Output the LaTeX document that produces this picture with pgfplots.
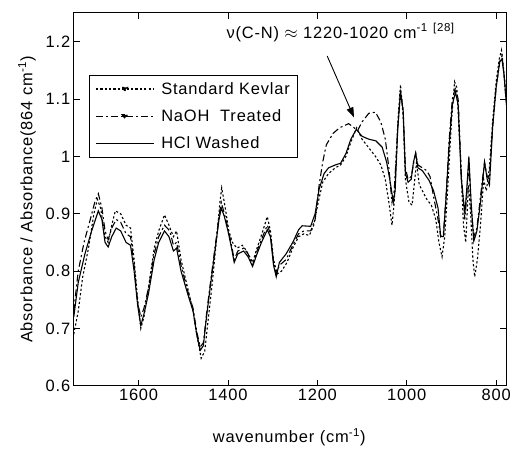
\documentclass[border=0pt]{standalone}
\usepackage{fontspec}
\setmainfont{Liberation Sans}[LetterSpace=5]
\usepackage{pgfplots}
\pgfplotsset{compat=1.18}
\usetikzlibrary{arrows.meta}

\pgfplotsset{
  withtri/.style={legend image code/.code={
    \draw[##1] (0bp,0bp) -- (58bp,0bp);
    \fill[black] (29bp,-1.8bp) -- (26.3bp,1.6bp) -- (31.7bp,1.6bp) -- cycle;}},
  notri/.style={legend image code/.code={
    \draw[##1] (0bp,0bp) -- (58bp,0bp);}},
}

\begin{document}
\begin{tikzpicture}[font=\fontsize{16.5bp}{19bp}\selectfont]
\begin{axis}[
  scale only axis, width=434bp, height=374bp,
  x dir=reverse,
  xmin=777, xmax=1745, ymin=0.6, ymax=1.25,
  xtick={800,1000,1200,1400,1600},
  ytick={0.6,0.7,0.8,0.9,1,1.1,1.2},
  /pgf/number format/assume math mode=true,
  /pgf/number format/set thousands separator={},
  tick align=inside, major tick length=6bp,
  tick style={black, line width=0.9bp},
  axis line style={line width=1bp},
  xlabel={wavenumber (cm\textsuperscript{-1})},
  ylabel={Absorbance / Absorbance(864 cm\textsuperscript{-1})},
  x label style={at={(axis description cs:0.498,-0.138)}, anchor=center},
  y label style={at={(axis description cs:-0.108,0.5)}, anchor=center},
  legend style={at={(rel axis cs:0.035,0.834)}, anchor=north west,
    draw=black, line width=1bp, row sep=10bp, column sep=5bp,
    inner xsep=6bp, inner ysep=5bp},
  legend cell align=left,
]

\addplot[black, line width=1.1bp, dash pattern=on 2.2bp off 2.2bp, withtri] coordinates {
(1745,0.69) (1735,0.73) (1725,0.79) (1712,0.84) (1700,0.90) (1692,0.925)
(1685,0.91) (1675,0.86) (1668,0.85) (1660,0.88) (1652,0.905) (1640,0.90)
(1628,0.88) (1618,0.875) (1610,0.82) (1602,0.75) (1595,0.70) (1588,0.72)
(1578,0.77) (1565,0.84) (1555,0.87) (1542,0.898) (1532,0.88) (1522,0.86)
(1515,0.87) (1505,0.82) (1490,0.77) (1478,0.73) (1470,0.69) (1460,0.648)
(1452,0.66) (1445,0.71) (1435,0.78) (1425,0.86) (1418,0.92) (1414,0.945)
(1406,0.91) (1398,0.87) (1390,0.85) (1380,0.84) (1368,0.845) (1358,0.835)
(1345,0.815) (1335,0.84) (1322,0.87) (1312,0.895) (1305,0.87) (1298,0.82)
(1290,0.795) (1280,0.80) (1268,0.815) (1255,0.84) (1242,0.86) (1230,0.865)
(1218,0.862) (1208,0.88) (1198,0.92) (1188,0.955) (1175,0.97) (1160,0.98)
(1148,0.985) (1136,1.0) (1125,1.025) (1112,1.05) (1100,1.03) (1085,1.015)
(1070,1.0) (1058,0.985) (1048,0.96) (1040,0.92) (1033,0.88) (1028,0.92)
(1020,1.06) (1014,1.125) (1008,1.07) (1003,0.96) (995,0.92) (988,0.915)
(982,0.96) (978,0.99) (972,0.95) (965,0.94) (955,0.925) (945,0.915)
(935,0.89) (928,0.85) (921,0.825) (915,0.86) (908,0.95) (900,1.06)
(893,1.13) (888,1.12) (880,1.0) (873,0.88) (868,0.85) (862,0.95)
(857,0.90) (852,0.82) (848,0.79) (842,0.82) (835,0.88) (828,0.96)
(822,0.94) (815,0.98) (808,1.06) (800,1.13) (793,1.17) (788,1.185)
(783,1.15) (777,1.10)
};
\addlegendentry{Standard Kevlar}

\addplot[black, line width=1.1bp, dash pattern=on 7bp off 3bp on 2bp off 3bp, withtri] coordinates {
(1745,0.73) (1735,0.80) (1722,0.85) (1708,0.89) (1698,0.92) (1690,0.935)
(1682,0.91) (1675,0.87) (1668,0.855) (1660,0.875) (1650,0.89) (1640,0.885)
(1628,0.865) (1618,0.86) (1610,0.81) (1602,0.745) (1595,0.72) (1588,0.735)
(1578,0.77) (1565,0.83) (1555,0.86) (1542,0.88) (1530,0.87) (1522,0.845)
(1515,0.85) (1505,0.81) (1490,0.765) (1478,0.735) (1470,0.695) (1462,0.668)
(1455,0.675) (1448,0.725) (1440,0.775) (1430,0.835) (1420,0.895) (1415,0.92)
(1408,0.90) (1400,0.875) (1392,0.845) (1386,0.82) (1378,0.835) (1365,0.84)
(1355,0.83) (1345,0.81) (1335,0.835) (1325,0.855) (1312,0.88) (1305,0.865)
(1298,0.815) (1292,0.795) (1285,0.81) (1270,0.82) (1255,0.845) (1242,0.865)
(1230,0.87) (1215,0.87) (1205,0.89) (1196,0.95) (1188,0.99) (1180,1.02)
(1165,1.04) (1150,1.05) (1130,1.057) (1118,1.05) (1110,1.045) (1100,1.06)
(1085,1.075) (1070,1.077) (1058,1.06) (1048,1.03) (1040,0.98) (1033,0.92)
(1028,0.94) (1020,1.05) (1014,1.115) (1008,1.08) (1003,0.98) (997,0.96)
(990,0.965) (984,0.99) (980,1.005) (975,0.985) (965,0.98) (955,0.975)
(948,0.965) (940,0.93) (930,0.89) (924,0.86) (918,0.865) (912,0.93)
(905,1.03) (898,1.10) (891,1.12) (885,1.10) (878,0.97) (870,0.89)
(866,0.93) (861,0.99) (856,0.91) (850,0.86) (843,0.875) (835,0.93)
(826,0.99) (820,0.965) (815,0.96) (808,1.05) (800,1.12) (792,1.165)
(787,1.175) (782,1.14) (777,1.09)
};
\addlegendentry{NaOH\ \ Treated}

\addplot[black, line width=1.1bp, notri] coordinates {
(1745,0.72) (1735,0.78) (1720,0.83) (1705,0.87) (1690,0.905) (1682,0.89)
(1675,0.85) (1668,0.842) (1660,0.86) (1650,0.875) (1640,0.87) (1628,0.85)
(1618,0.845) (1610,0.80) (1602,0.74) (1595,0.705) (1588,0.725) (1578,0.76)
(1565,0.82) (1555,0.85) (1542,0.87) (1532,0.86) (1522,0.835) (1515,0.84)
(1505,0.80) (1490,0.76) (1478,0.73) (1470,0.69) (1462,0.662) (1455,0.67)
(1448,0.72) (1440,0.77) (1430,0.83) (1420,0.89) (1415,0.91) (1408,0.895)
(1400,0.87) (1392,0.84) (1386,0.815) (1378,0.83) (1365,0.835) (1355,0.825)
(1345,0.808) (1335,0.83) (1325,0.85) (1312,0.872) (1305,0.86) (1298,0.81)
(1292,0.79) (1285,0.815) (1270,0.83) (1255,0.85) (1242,0.872) (1234,0.879)
(1215,0.878) (1205,0.90) (1196,0.943) (1185,0.97) (1175,0.98) (1160,0.985)
(1148,0.988) (1136,1.005) (1125,1.03) (1113,1.047) (1100,1.035) (1085,1.03)
(1069,1.027) (1055,1.016) (1045,0.99) (1038,0.96) (1030,0.92) (1026,0.94)
(1020,1.05) (1014,1.11) (1008,1.08) (1003,0.97) (997,0.955) (990,0.96)
(985,0.99) (980,1.006) (975,0.98) (965,0.975) (950,0.958) (940,0.94)
(930,0.91) (924,0.86) (918,0.86) (912,0.93) (905,1.02) (898,1.09)
(891,1.112) (885,1.09) (878,0.96) (870,0.90) (866,0.94) (861,1.0)
(856,0.92) (850,0.852) (843,0.87) (835,0.92) (826,0.99) (820,0.96)
(815,0.95) (808,1.05) (800,1.12) (792,1.165) (787,1.17) (782,1.14)
(777,1.09)
};
\addlegendentry{HCl Washed}

\node[anchor=center] at (axis cs:1148,1.216)
  {ν(C-N) $\approx$ 1220-1020 cm\textsuperscript{-1} \textsuperscript{[28]}};
\draw[line width=0.9bp, -{Triangle[length=10bp,width=7bp]}]
  (axis cs:1178,1.175) -- (axis cs:1118,1.068);
\end{axis}
\path (-74bp,-61bp) rectangle (440bp,387bp);
\end{tikzpicture}
\end{document}
